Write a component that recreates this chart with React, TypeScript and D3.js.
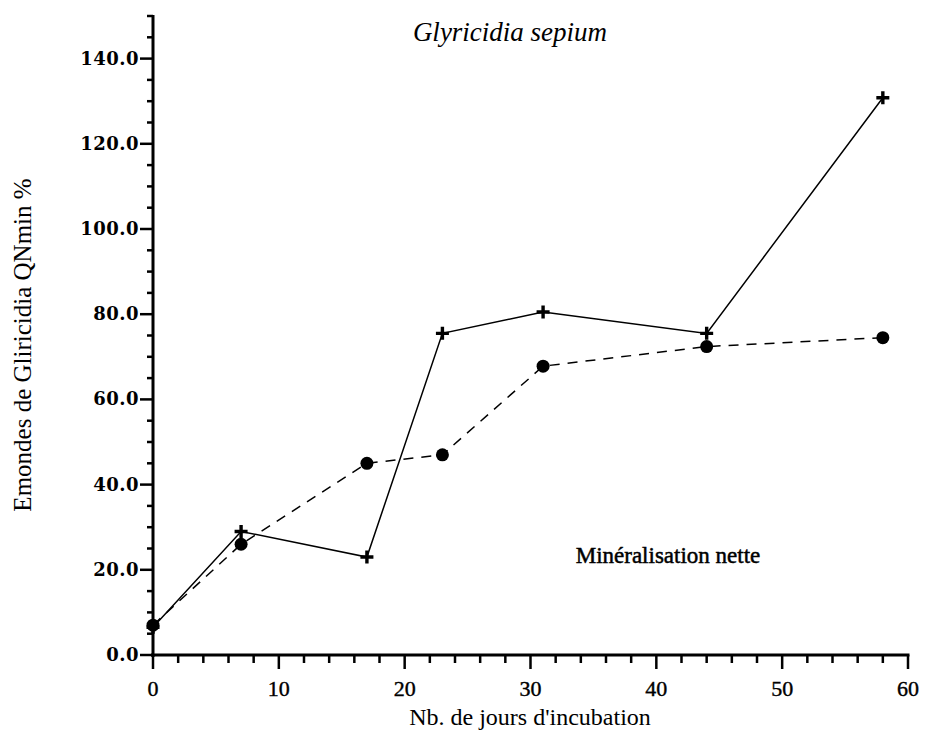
import React, { useEffect, useRef } from 'react'
import * as d3 from 'd3';

const days = [0, 7, 17, 23, 31, 44, 58];
const crossValues = [6.5, 29, 23, 75.5, 80.5, 75.5, 130.8];
const circleValues = [7, 26, 45, 47, 67.8, 72.4, 74.5];
const xTicks = [0, 10, 20, 30, 40, 50, 60];
const yTicks = [0, 20, 40, 60, 80, 100, 120, 140];

const titleText = 'Glyricidia sepium';
const xLabel = "Nb. de jours d'incubation";
const yLabel = 'Emondes de Gliricidia QNmin %';
const noteText = 'Minéralisation nette';

export default function App() {
  const svgRef = useRef<SVGSVGElement | null>(null);
  const width = 928;
  const height = 733;

  useEffect(() => {
    document.body.style.margin = '0';
    const svg = d3.select(svgRef.current)
      .attr('width', width)
      .attr('height', height)
      .attr('viewBox', [0, 0, width, height]);
    svg.selectAll('*').remove();

    const x = d3.scaleLinear().domain([0, 60]).range([153, 908]);
    const y = d3.scaleLinear().domain([0, 150]).range([655, 16]);
    const serif = '"Liberation Serif", serif';

    // x axis
    const xAxis = svg.append('g').attr('transform', `translate(0, ${y(0)})`);
    xAxis.append('line')
      .attr('x1', x(0) - 2).attr('x2', x(60) + 1.5)
      .attr('stroke', '#000').attr('stroke-width', 3);
    xAxis.selectAll('.minor')
      .data(d3.range(0, 61, 2))
      .join('line')
      .attr('x1', d => x(d)).attr('x2', d => x(d))
      .attr('y1', 0).attr('y2', d => d % 10 === 0 ? 14 : 8)
      .attr('stroke', '#000').attr('stroke-width', 2.5);
    xAxis.selectAll('text')
      .data(xTicks)
      .join('text')
      .attr('x', d => x(d)).attr('y', 41)
      .attr('text-anchor', 'middle')
      .attr('font-family', serif).attr('font-size', 22)
      .attr('stroke', '#000').attr('stroke-width', 0.4)
      .text(d => d);

    // y axis
    const yAxis = svg.append('g').attr('transform', `translate(${x(0)}, 0)`);
    yAxis.append('line')
      .attr('y1', y(150) - 1).attr('y2', y(0) + 2)
      .attr('stroke', '#000').attr('stroke-width', 3);
    yAxis.selectAll('.minor')
      .data(d3.range(0, 151, 5))
      .join('line')
      .attr('y1', d => y(d)).attr('y2', d => y(d))
      .attr('x1', d => d % 20 === 0 ? -13 : -6).attr('x2', 0)
      .attr('stroke', '#000').attr('stroke-width', 2.5);
    yAxis.selectAll('text')
      .data(yTicks)
      .join('text')
      .attr('x', -14).attr('y', d => y(d) + 6)
      .attr('text-anchor', 'end')
      .attr('font-family', '"DejaVu Serif", serif').attr('font-size', 18)
      .attr('font-weight', 'bold')
      .attr('letter-spacing', 0.5)
      .text(d => d.toFixed(1));

    // dashed series with circles
    const pts = (vals: number[]) => days.map((d, i) => [x(d), y(vals[i])] as [number, number]);
    const line = d3.line();
    svg.append('path')
      .attr('d', line(pts(circleValues)))
      .attr('fill', 'none').attr('stroke', '#000')
      .attr('stroke-width', 1.5).attr('stroke-dasharray', '10,8');
    svg.selectAll('.dot')
      .data(pts(circleValues))
      .join('circle')
      .attr('cx', d => d[0]).attr('cy', d => d[1]).attr('r', 6.5)
      .attr('fill', '#000');

    // solid series with crosses
    svg.append('path')
      .attr('d', line(pts(crossValues)))
      .attr('fill', 'none').attr('stroke', '#000')
      .attr('stroke-width', 1.5);
    svg.selectAll('.cross')
      .data(pts(crossValues))
      .join('path')
      .attr('transform', d => `translate(${d[0]}, ${d[1]})`)
      .attr('d', 'M-6.5,0H6.5M0,-6.5V6.5')
      .attr('stroke', '#000').attr('stroke-width', 3.4).attr('fill', 'none');

    // texts
    svg.append('text')
      .attr('x', 510).attr('y', 41)
      .attr('text-anchor', 'middle')
      .attr('font-family', serif).attr('font-style', 'italic').attr('font-size', 27)
      .text(titleText);
    svg.append('text')
      .attr('x', 530).attr('y', 725)
      .attr('text-anchor', 'middle')
      .attr('font-family', serif).attr('font-size', 24)
      .text(xLabel);
    svg.append('text')
      .attr('transform', `translate(31, ${345}) rotate(-90)`)
      .attr('text-anchor', 'middle')
      .attr('font-family', serif).attr('font-size', 25)
      .text(yLabel);
    svg.append('text')
      .attr('x', 668).attr('y', 563)
      .attr('text-anchor', 'middle')
      .attr('font-family', serif).attr('font-size', 23)
      .attr('stroke', '#000').attr('stroke-width', 0.5)
      .text(noteText);
  }, []);

  return (
    <svg ref={svgRef} style={{ display: 'block' }}></svg>
  )
}
